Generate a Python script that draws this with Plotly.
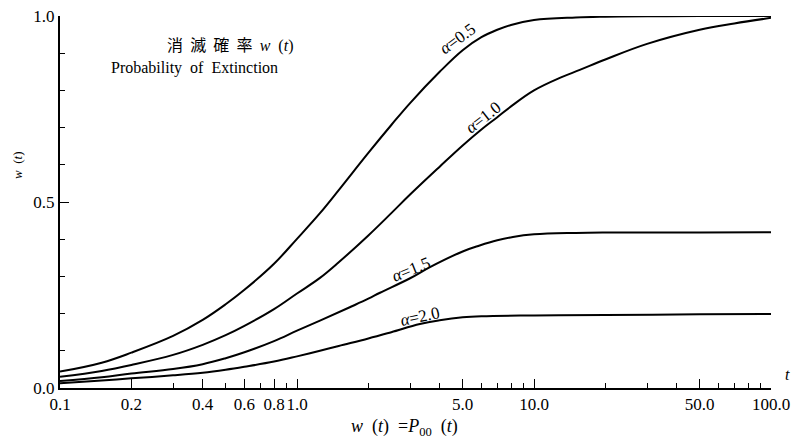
import plotly.graph_objects as go

# ---- data ----
t_a05 = [0.1, 0.15, 0.2, 0.3, 0.4, 0.5, 0.6, 0.8, 1.0, 1.25, 1.5, 2.0, 2.5, 3.0, 4.0, 5.0, 6.0, 7.0, 8.0, 10, 15, 20, 30, 50, 100]
w_a05 = [0.044, 0.068, 0.095, 0.140, 0.183, 0.225, 0.264, 0.334, 0.401, 0.470, 0.532, 0.632, 0.707, 0.766, 0.850, 0.908, 0.943, 0.963, 0.976, 0.989, 0.996, 0.998, 0.999, 1.0, 1.0]

t_a10 = [0.1, 0.15, 0.2, 0.3, 0.4, 0.5, 0.6, 0.8, 1.0, 1.25, 1.5, 2.0, 2.5, 3.0, 4.0, 5.0, 6.0, 7.0, 8.0, 10, 13, 15.6, 20, 30, 50, 70, 100]
w_a10 = [0.030, 0.046, 0.062, 0.089, 0.116, 0.142, 0.167, 0.212, 0.254, 0.296, 0.338, 0.410, 0.470, 0.520, 0.595, 0.652, 0.695, 0.728, 0.757, 0.800, 0.835, 0.855, 0.883, 0.925, 0.963, 0.980, 0.995]

t_a15 = [0.1, 0.15, 0.2, 0.3, 0.4, 0.5, 0.6, 0.8, 1.0, 1.25, 1.67, 2.0, 2.24, 3.0, 3.64, 5.0, 5.9, 7.0, 8.15, 10, 15, 20, 50, 100]
w_a15 = [0.019, 0.029, 0.039, 0.051, 0.064, 0.080, 0.096, 0.126, 0.154, 0.181, 0.217, 0.240, 0.256, 0.295, 0.325, 0.367, 0.383, 0.397, 0.406, 0.413, 0.417, 0.418, 0.418, 0.419]

t_a20 = [0.1, 0.15, 0.2, 0.3, 0.4, 0.5, 0.6, 0.8, 1.0, 1.25, 1.5, 2.0, 2.5, 3.3, 4.0, 5.0, 6.0, 10, 20, 50, 100]
w_a20 = [0.013, 0.020, 0.026, 0.034, 0.041, 0.049, 0.057, 0.071, 0.085, 0.100, 0.113, 0.133, 0.150, 0.172, 0.182, 0.190, 0.193, 0.195, 0.196, 0.198, 0.199]

series = [(t_a05, w_a05), (t_a10, w_a10), (t_a15, w_a15), (t_a20, w_a20)]

x_tickvals = [0.1, 0.2, 0.4, 0.6, 0.8, 1.0, 5.0, 10.0, 50.0, 100.0]
x_ticktext = ["0.1", "0.2", "0.4", "0.6", "0.8", "1.0", "5.0", "10.0", "50.0", "100.0"]
x_minor = [0.3, 0.5, 0.7, 0.9, 2, 3, 4, 6, 7, 8, 9, 20, 30, 40, 60, 70, 80, 90]
y_tickvals = [0.0, 0.5, 1.0]
y_ticktext = ["0.0", "0.5", "1.0"]
y_minor = [0.1, 0.2, 0.3, 0.4, 0.6, 0.7, 0.8, 0.9]

SERIF = "Liberation Serif"

fig = go.Figure()
for tt, ww in series:
    fig.add_trace(go.Scatter(x=tt, y=ww, mode="lines", line=dict(color="black", width=2, shape="spline", smoothing=1.1),
                             showlegend=False, hoverinfo="skip", cliponaxis=False))

# page has an 8px body margin, so the figure is 8px smaller and shifted
L, R, T, B = 52, 33, 8, 51
W, H = 796, 431
pw, ph = W - L - R, H - T - B

def px(xp):  # reference pixel -> paper
    return (xp - 60) / pw

def py(yp):
    return (388 - yp) / ph

fig.update_layout(
    width=W, height=H,
    margin=dict(l=L, r=R, t=T, b=B, autoexpand=False),
    paper_bgcolor="white", plot_bgcolor="white",
    font=dict(family=SERIF, color="black", size=15),
    xaxis=dict(type="log", range=[-1, 2], showgrid=False, zeroline=False, automargin=False,
               showline=True, linecolor="black", linewidth=2, tickangle=0, ticklabeloverflow="allow",
               tickmode="array", tickvals=x_tickvals, ticktext=x_ticktext,
               ticks="inside", ticklen=9, tickwidth=1.2, tickcolor="black",
               tickfont=dict(family=SERIF, size=17),
               minor=dict(tickvals=x_minor, ticks="inside", ticklen=5, tickwidth=1, tickcolor="black", showgrid=False)),
    yaxis=dict(range=[0, 1.0], showgrid=False, zeroline=False, automargin=False,
               showline=True, linecolor="black", linewidth=2, ticklabeloverflow="allow",
               tickmode="array", tickvals=y_tickvals, ticktext=y_ticktext,
               ticks="inside", ticklen=9, tickwidth=1.2, tickcolor="black",
               tickfont=dict(family=SERIF, size=17),
               minor=dict(tickvals=y_minor, ticks="inside", ticklen=5, tickwidth=1, tickcolor="black", showgrid=False)),
)

ann = [
    dict(text="消  滅  確  率  <span style='font-family:Liberation Serif'><i>w</i>  (<i>t</i>)</span>", x=px(230), y=py(44),
         font=dict(family="Noto Sans CJK JP", size=16)),
    dict(text="Probability  of  Extinction", x=px(194), y=py(68),
         font=dict(family=SERIF, size=16)),
    dict(text="<i>w</i>  (<i>t</i>)", x=px(17), y=py(166), textangle=-90,
         font=dict(family=SERIF, size=13)),
    dict(text="<i>w</i>  (<i>t</i>)  =<i>P</i><sub>00</sub>  (<i>t</i>)", x=px(404), y=py(428),
         font=dict(family=SERIF, size=18)),
    dict(text="<i>t</i>", x=px(787), y=py(374), font=dict(family=SERIF, size=16)),
    dict(text="<i>α</i>=0.5", x=px(458), y=py(39), textangle=-36, font=dict(family=SERIF, size=17)),
    dict(text="<i>α</i>=1.0", x=px(483), y=py(117), textangle=-38, font=dict(family=SERIF, size=17)),
    dict(text="<i>α</i>=1.5", x=px(411), y=py(269), textangle=-22, font=dict(family=SERIF, size=17)),
    dict(text="<i>α</i>=2.0", x=px(420), y=py(316), textangle=-12, font=dict(family=SERIF, size=17)),
]
for a in ann:
    fig.add_annotation(xref="paper", yref="paper", showarrow=False, xanchor="center", yanchor="middle", **a)

fig.write_html("out.html")
